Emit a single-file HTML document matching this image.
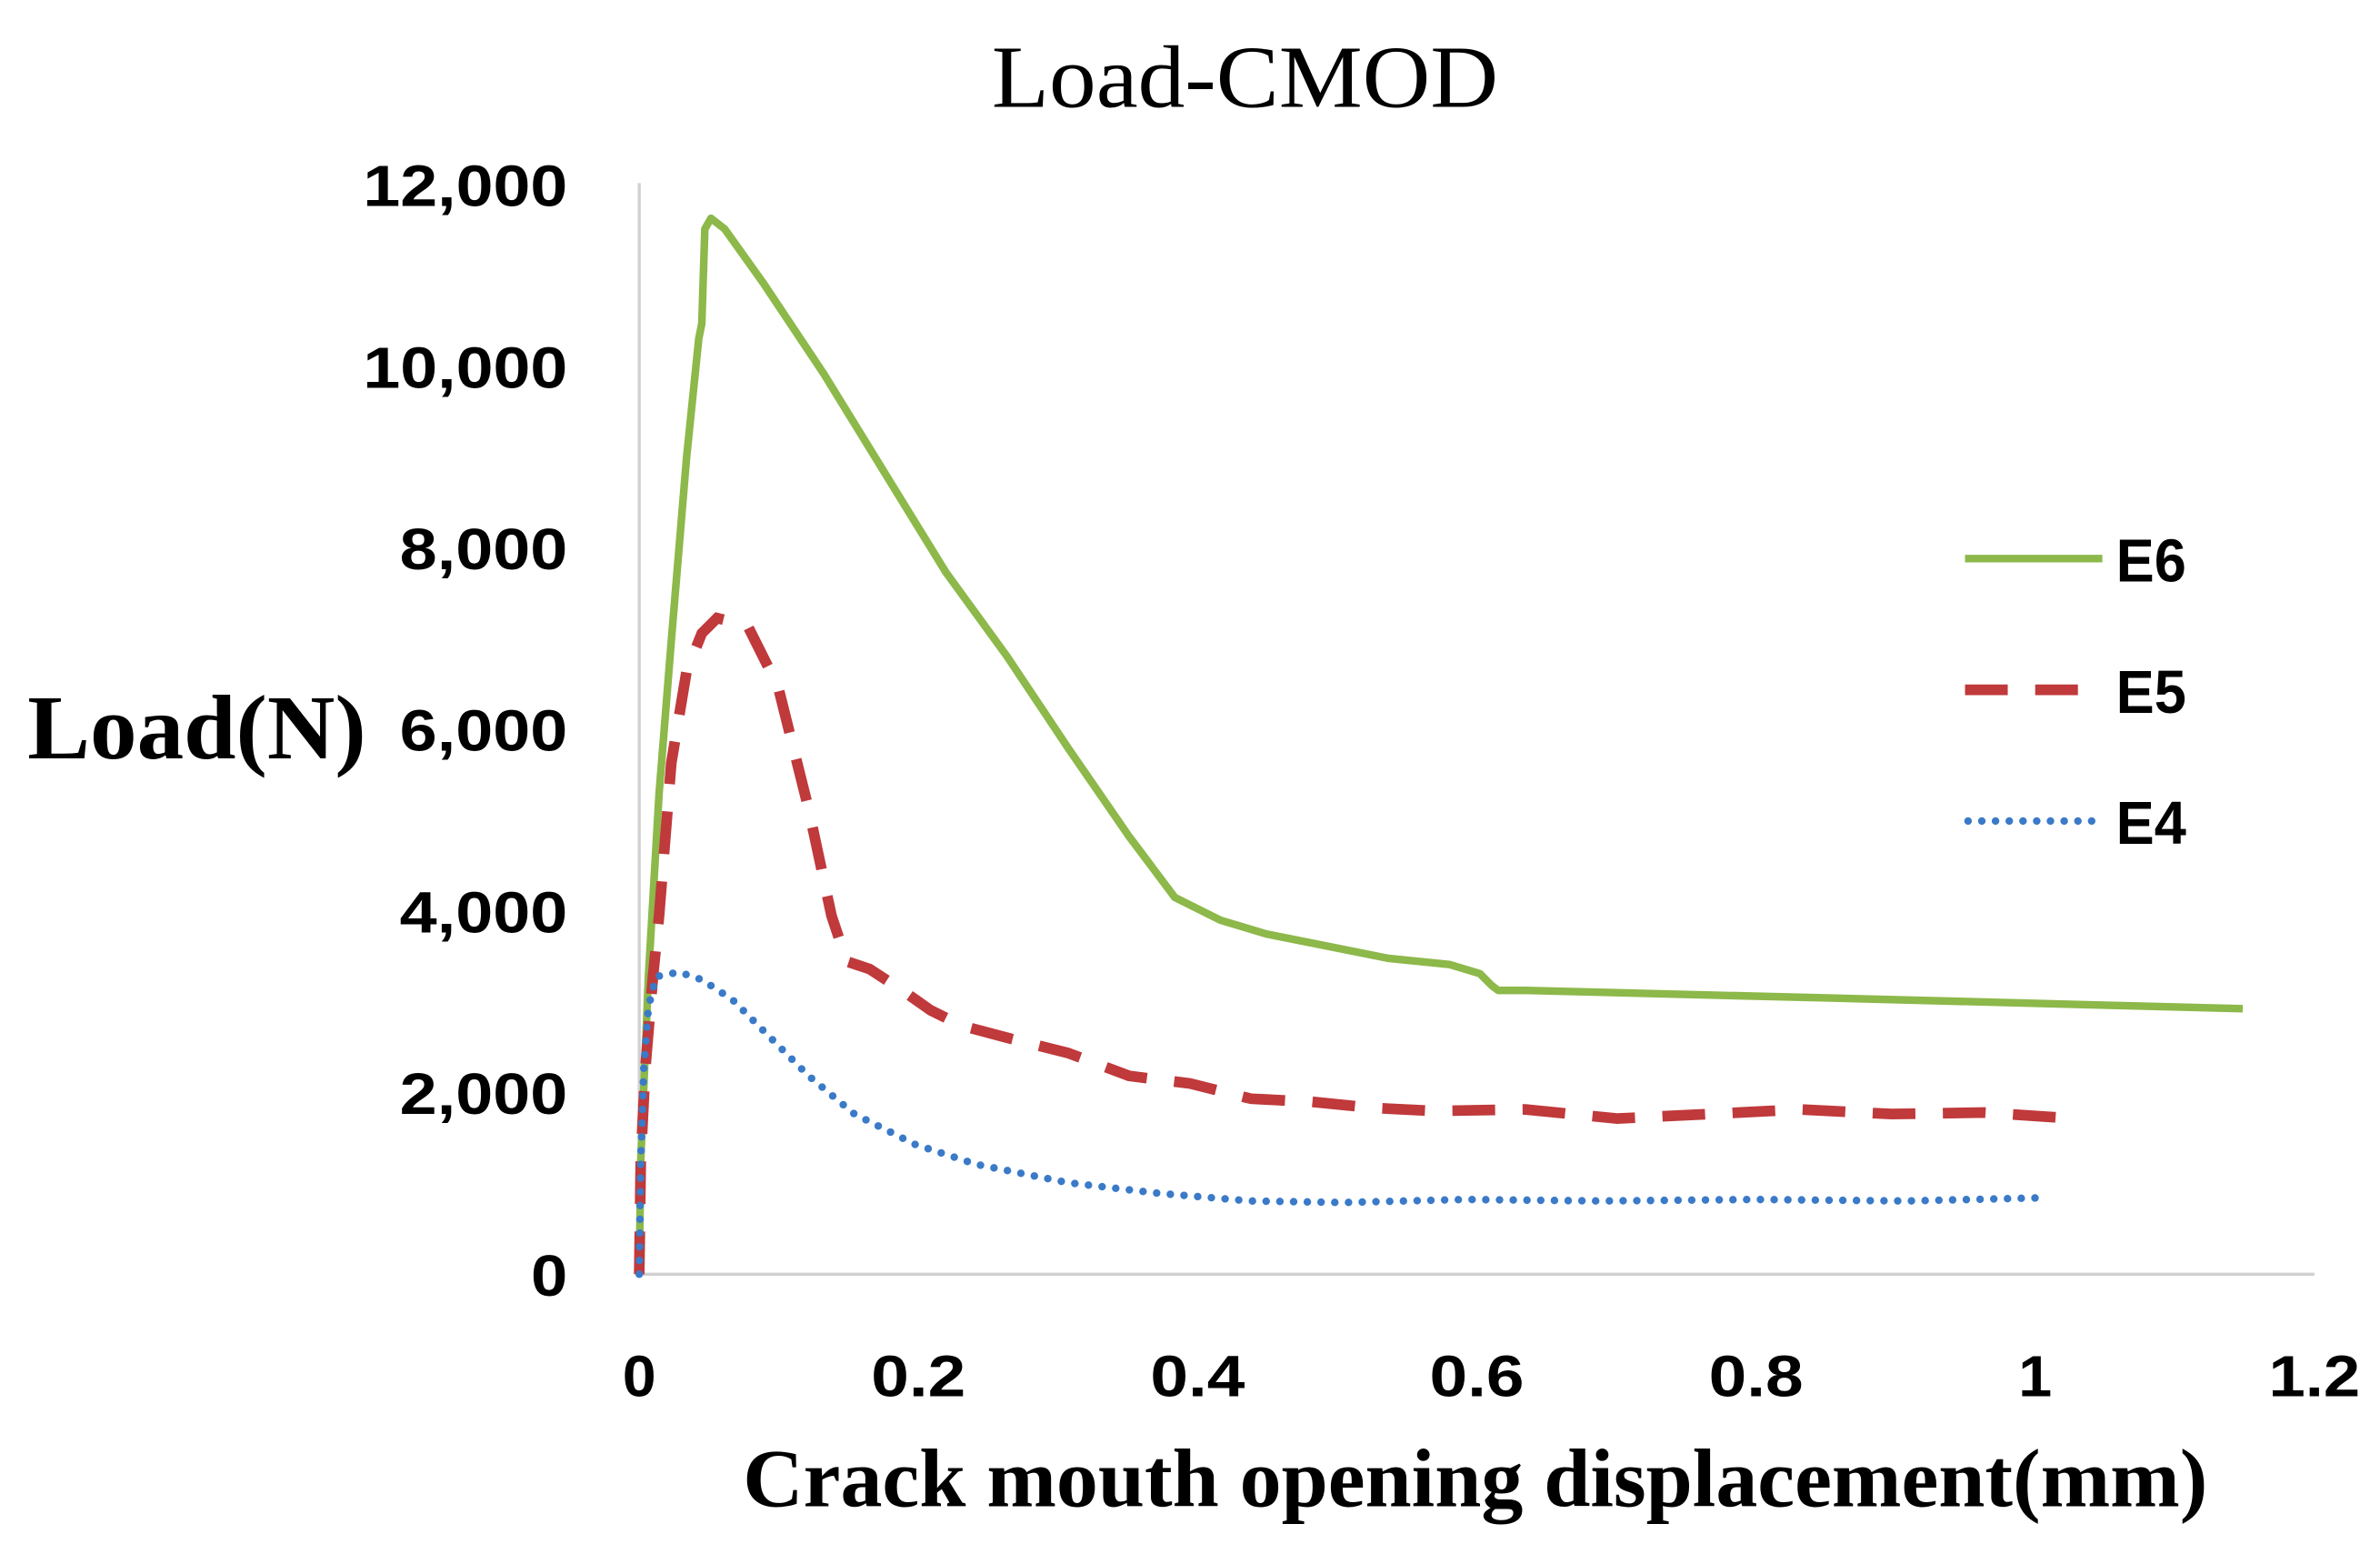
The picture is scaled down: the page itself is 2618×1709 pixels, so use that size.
<!DOCTYPE html>
<html><head><meta charset="utf-8"><style>
html,body{margin:0;padding:0;background:#fff;}
svg{display:block;}
</style></head><body>
<svg width="2618" height="1709" viewBox="0 0 1560 1018.3" xmlns="http://www.w3.org/2000/svg">
<rect width="1560" height="1019" fill="#fff"/>
<text x="650" y="70" font-family="Liberation Serif, serif" font-size="58" textLength="332" lengthAdjust="spacingAndGlyphs" fill="#000">Load-CMOD</text>
<line x1="419" y1="120" x2="419" y2="835" stroke="#d0d0d0" stroke-width="2"/>
<line x1="419" y1="835" x2="1517" y2="835" stroke="#d0d0d0" stroke-width="2"/>
<g font-family="Liberation Sans, sans-serif" font-weight="bold" font-size="38" fill="#000" lengthAdjust="spacingAndGlyphs">
<text x="348" y="849" textLength="24" lengthAdjust="spacingAndGlyphs">0</text>
<text x="262" y="730" textLength="110" lengthAdjust="spacingAndGlyphs">2,000</text>
<text x="262" y="611" textLength="110" lengthAdjust="spacingAndGlyphs">4,000</text>
<text x="262" y="492" textLength="110" lengthAdjust="spacingAndGlyphs">6,000</text>
<text x="262" y="373" textLength="110" lengthAdjust="spacingAndGlyphs">8,000</text>
<text x="238" y="254" textLength="134" lengthAdjust="spacingAndGlyphs">10,000</text>
<text x="238" y="135" textLength="134" lengthAdjust="spacingAndGlyphs">12,000</text>
</g>
<g font-family="Liberation Sans, sans-serif" font-weight="bold" font-size="38" fill="#000">
<text x="408" y="915" textLength="22" lengthAdjust="spacingAndGlyphs">0</text>
<text x="571" y="915" textLength="62" lengthAdjust="spacingAndGlyphs">0.2</text>
<text x="754" y="915" textLength="62" lengthAdjust="spacingAndGlyphs">0.4</text>
<text x="937" y="915" textLength="62" lengthAdjust="spacingAndGlyphs">0.6</text>
<text x="1120" y="915" textLength="62" lengthAdjust="spacingAndGlyphs">0.8</text>
<text x="1323" y="915" textLength="22" lengthAdjust="spacingAndGlyphs">1</text>
<text x="1487" y="915" textLength="60" lengthAdjust="spacingAndGlyphs">1.2</text>
</g>
<text x="18" y="497" font-family="Liberation Serif, serif" font-weight="bold" font-size="60" textLength="222" lengthAdjust="spacingAndGlyphs" fill="#000">Load(N)</text>
<text x="487" y="987" font-family="Liberation Serif, serif" font-weight="bold" font-size="54" textLength="960" lengthAdjust="spacingAndGlyphs" fill="#000">Crack mouth opening displacement(mm)</text>
<polyline fill="none" stroke="#8db84a" stroke-width="5" stroke-linejoin="round" points="419,835 420,760 425,640 432,520 440,420 450,300 458,222 460,212 462,150 466,143 475,150 500,185 540,245 580,310 620,375 660,430 700,490 740,548 770,588 800,603 830,612 870,620 910,628 950,632 970,638 978,646 982,649 1000,649 1200,654 1470,661"/>
<polyline fill="none" stroke="#c0393b" stroke-width="7" stroke-dasharray="28 18" points="419,835 420,760 423,700 428,640 432,600 440,500 450,440 460,415 470,405 490,410 510,450 530,530 545,600 555,630 570,635 590,648 610,662 630,672 660,680 700,690 740,705 780,710 820,720 860,722 900,726 940,728 1000,727 1060,733 1120,730 1180,727 1240,730 1300,729 1360,733"/>
<polyline fill="none" stroke="#3a7ac8" stroke-width="5" stroke-linecap="round" stroke-dasharray="0 9" points="419,835 420,760 422,700 425,660 430,640 445,637 460,642 480,655 500,675 530,705 560,730 600,750 640,763 700,775 760,782 820,787 880,788 960,786 1050,787 1150,786 1250,787 1335,785"/>
<line x1="1288" y1="366" x2="1378" y2="366" stroke="#8db84a" stroke-width="5"/>
<line x1="1288" y1="452" x2="1378" y2="452" stroke="#c0393b" stroke-width="7" stroke-dasharray="28 18"/>
<line x1="1290" y1="538" x2="1378" y2="538" stroke="#3a7ac8" stroke-width="5" stroke-linecap="round" stroke-dasharray="0 9"/>
<g font-family="Liberation Sans, sans-serif" font-weight="bold" font-size="40" fill="#000">
<text x="1387" y="381" textLength="46" lengthAdjust="spacingAndGlyphs">E6</text>
<text x="1387" y="467" textLength="46" lengthAdjust="spacingAndGlyphs">E5</text>
<text x="1387" y="553" textLength="46" lengthAdjust="spacingAndGlyphs">E4</text>
</g>
</svg>
</body></html>
